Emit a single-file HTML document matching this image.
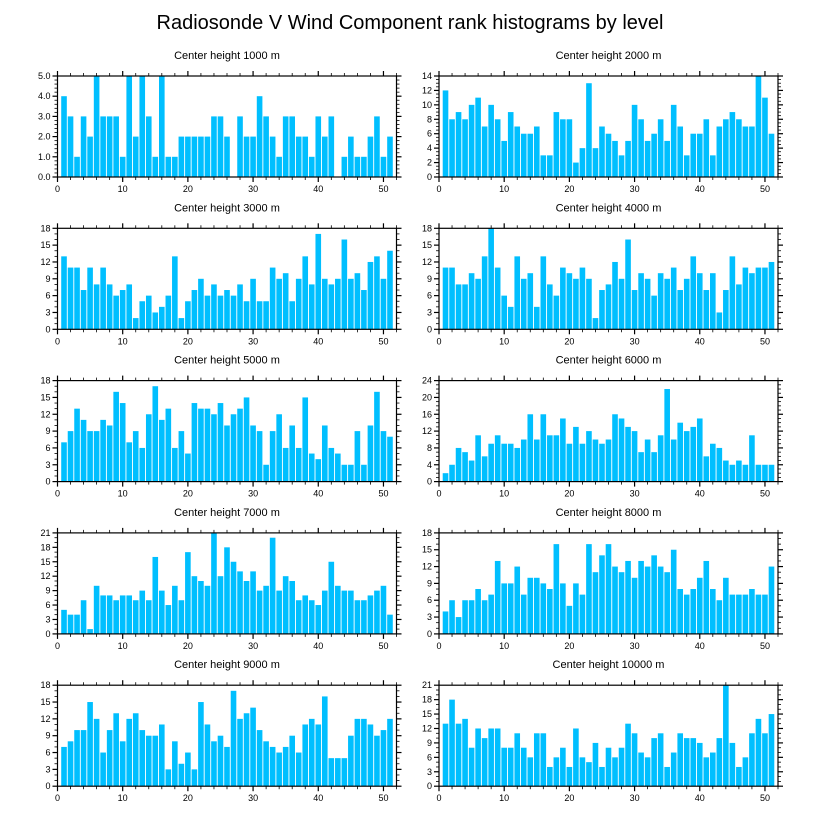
<!DOCTYPE html>
<html><head><meta charset="utf-8"><style>
body{margin:0;background:#fff;}
svg{display:block;font-family:"Liberation Sans",sans-serif;}
</style></head><body>
<svg id="c" width="818" height="824" viewBox="0 0 818 824">
<text x="410" y="29" font-size="20" text-anchor="middle">Radiosonde V Wind Component rank histograms by level</text>
</svg>
<script>
const levels = ["1000","2000","3000","4000","5000","6000","7000","8000","9000","10000"];
const yMaxes = [5,14,18,18,18,24,21,18,18,21];
const ySteps = [1,2,3,3,3,4,3,3,3,3];
const xTicks = [0,10,20,30,40,50];
const v1000 = [4,3,1,3,2,5,3,3,3,1,5,2,5,3,1,5,1,1,2,2,2,2,2,3,3,2,0,3,2,2,4,3,2,1,3,3,2,2,1,3,2,3,0,1,2,1,1,2,3,1,2];
const v2000 = [12,8,9,8,10,11,7,10,8,5,9,7,6,6,7,3,3,9,8,8,2,4,13,4,7,6,5,3,5,10,8,5,6,8,5,10,7,3,6,6,8,3,7,8,9,8,7,7,14,11,6];
const v3000 = [13,11,11,7,11,8,11,8,6,7,8,2,5,6,3,4,6,13,2,5,7,9,6,8,6,7,6,8,5,9,5,5,11,9,10,5,9,13,8,17,9,8,9,16,9,10,7,12,13,9,14];
const v4000 = [11,11,8,8,10,9,13,18,11,6,4,13,9,10,4,13,8,6,11,10,9,11,9,2,7,8,12,9,16,7,10,9,6,10,9,11,7,9,13,10,7,10,3,7,13,8,11,10,11,11,12];
const v5000 = [7,9,13,11,9,9,11,10,16,14,7,9,6,12,17,11,13,6,9,5,14,13,13,12,14,10,12,13,15,10,9,3,9,12,6,10,6,15,5,4,10,6,5,3,3,9,3,10,16,9,8];
const v6000 = [2,4,8,7,5,11,6,9,11,9,9,8,10,16,10,16,11,11,15,9,13,9,12,10,9,10,16,15,13,12,7,10,7,11,22,10,14,12,13,15,6,9,8,5,4,5,4,11,4,4,4];
const v7000 = [5,4,4,7,1,10,8,8,7,8,8,7,9,7,16,9,6,10,7,17,12,11,10,21,12,18,15,13,11,13,9,10,20,9,12,11,7,8,7,6,9,15,10,9,9,7,7,8,9,10,4];
const v8000 = [4,6,3,6,6,8,6,7,13,9,9,12,7,10,10,9,8,16,9,5,9,7,16,11,14,16,12,11,13,10,13,12,14,12,11,15,8,7,8,10,13,8,6,10,7,7,7,8,7,7,12];
const v9000 = [7,8,10,10,15,12,6,10,13,8,12,13,10,9,9,11,3,8,4,6,3,15,11,8,9,7,17,12,13,14,10,8,7,6,7,9,6,11,12,11,16,5,5,5,9,12,12,11,9,10,12];
const v10000 = [13,18,13,14,8,12,10,12,12,8,8,11,8,6,11,11,4,6,8,4,12,6,5,9,4,8,6,8,13,11,7,6,10,11,4,7,11,10,10,9,6,7,10,21,9,4,6,11,14,11,15];
const series = [v1000,v2000,v3000,v4000,v5000,v6000,v7000,v8000,v9000,v10000];

const NS="http://www.w3.org/2000/svg";
const svg=document.getElementById('c');
function mk(tag,attrs,parent){const e=document.createElementNS(NS,tag);for(const k in attrs)e.setAttribute(k,attrs[k]);(parent||svg).appendChild(e);return e;}
const X_MAX=52, PW=339, PH=101;
series.forEach((vals,p)=>{
  const col=p%2,row=Math.floor(p/2);
  const L=col?439:57.5, T=76+row*152.3, B=T+PH;
  const g=mk('g',{});
  
  
  const xs=v=>L+v/X_MAX*PW;
  const ys=v=>B-v/yMaxes[p]*PH;
  const t=mk('text',{x:L+PW/2,y:T-17,'font-size':11,'text-anchor':'middle'},g);
  t.textContent='Center height '+levels[p]+' m';
  
  
  vals.forEach((v,i)=>{
    const x=i+1;
    const r=mk('rect',{x:xs(x-0.43),y:ys(v),width:xs(0.86)-xs(0),height:B-ys(v),fill:'#00BFFF'},g);
    
    
  });
  mk('rect',{x:L,y:T,width:PW,height:PH,fill:'none',stroke:'#000','stroke-width':1.2},g);
  // x ticks
  for(let v=0;v<=X_MAX;v+=2){
    const maj=v%10===0, len=maj?5:3, x=xs(v);
    mk('line',{x1:x,x2:x,y1:B,y2:B+len,stroke:'#000','stroke-width':maj?1.2:0.8},g);
    mk('line',{x1:x,x2:x,y1:T,y2:T-len,stroke:'#000','stroke-width':maj?1.2:0.8},g);
  }
  xTicks.forEach(v=>{
    const tl=mk('text',{x:xs(v),y:B+15,'font-size':9,'text-anchor':'middle'},g);
    tl.textContent=v;
    
    
  });
  // y ticks
  const st=ySteps[p], nm=(st===3?3:(st===1?5:4)), ms=st/nm;
  for(let k=0;k<=Math.round(yMaxes[p]/ms);k++){
    const v=k*ms, maj=k%nm===0, len=maj?5:3, y=ys(v);
    mk('line',{x1:L,x2:L-len,y1:y,y2:y,stroke:'#000','stroke-width':maj?1.2:0.8},g);
    mk('line',{x1:L+PW,x2:L+PW+len,y1:y,y2:y,stroke:'#000','stroke-width':maj?1.2:0.8},g);
    if(maj){
      const tl=mk('text',{x:L-7,y:y+3,'font-size':9,'text-anchor':'end'},g);
      tl.textContent=st===1?v.toFixed(1):Math.round(v);
      
      
    }
  }
});
</script>
</body></html>
